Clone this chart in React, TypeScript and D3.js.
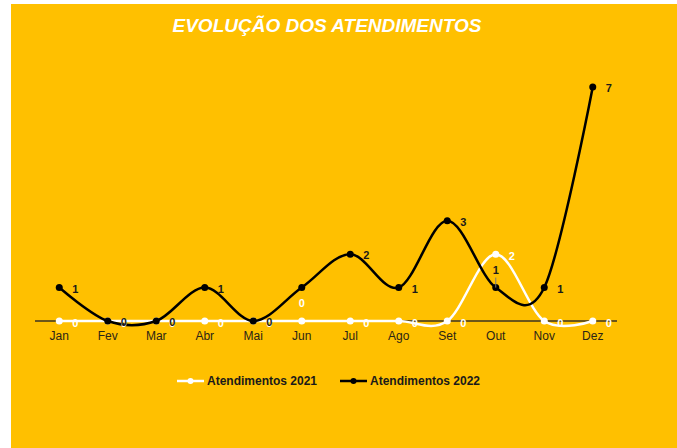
import React from "react";
import * as d3 from "d3";

const months = ["Jan", "Fev", "Mar", "Abr", "Mai", "Jun", "Jul", "Ago", "Set", "Out", "Nov", "Dez"];
const values2021 = [0, 0, 0, 0, 0, 0, 0, 0, 0, 2, 0, 0];
const values2022 = [1, 0, 0, 1, 0, 1, 2, 1, 3, 1, 1, 7];
const labelPos2021 = ["right", "right", "right", "right", "right", "above", "right", "right", "right", "right", "right", "right"];
const labelPos2022 = ["right", "right", "right", "right", "right", "none", "right", "right", "right", "above", "right", "right"];
const seriesNames = ["Atendimentos 2021", "Atendimentos 2022"];
const title = "EVOLUÇÃO DOS ATENDIMENTOS";

const W = 677;
const H = 448;
const FONT = "'Liberation Sans', Arial, sans-serif";

export default function App() {
  const x = d3.scaleBand<string>().domain(months).range([35, 617]);
  const y = d3.scaleLinear().domain([0, 7]).range([321, 87]);
  const cx = (m: string) => (x(m) as number) + x.bandwidth() / 2;

  const line = d3
    .line<number>()
    .x((_, i) => cx(months[i]))
    .y((v) => y(v))
    .curve(d3.curveCardinal.tension(0));

  const series = [
    { name: seriesNames[0], values: values2021, color: "#FFFFFF", pos: labelPos2021 },
    { name: seriesNames[1], values: values2022, color: "#000000", pos: labelPos2022 },
  ];

  return (
    <svg
      width={W}
      height={H}
      style={{ position: "absolute", left: 0, top: 0, display: "block" }}
    >
      <rect x={0} y={0} width={W} height={H} fill="#ffffff" />
      <rect x={11} y={4} width={W - 11} height={H - 4} fill="#FFC000" />
      <text
        x={327}
        y={32}
        textAnchor="middle"
        fontFamily={FONT}
        fontSize={19}
        fontWeight="bold"
        fontStyle="italic"
        fill="#ffffff"
      >
        {title}
      </text>

      {/* axis */}
      <line x1={35} x2={617} y1={y(0)} y2={y(0)} stroke="#3b3320" strokeWidth={1.5} />
      {months.map((m) => (
        <text
          key={m}
          x={cx(m)}
          y={340}
          textAnchor="middle"
          fontFamily={FONT}
          fontSize={12}
          fill="#2b2516"
        >
          {m}
        </text>
      ))}

      {series.map((s) => (
        <g key={s.name}>
          <path d={line(s.values) || ""} fill="none" stroke={s.color} strokeWidth={2.5} />
          {s.values.map((v, i) => (
            <circle key={i} cx={cx(months[i])} cy={y(v)} r={3.5} fill={s.color} />
          ))}
        </g>
      ))}

      {/* data labels */}
      {series.map((s, si) => (
        <g key={s.name + "-labels"}>
          {s.values.map((v, i) => {
            const p = s.pos[i];
            if (p === "none") return null;
            const px = cx(months[i]);
            const py = y(v);
            const lx = p === "above" ? px : px + 16;
            const ly = p === "above" ? py - 18 : py + (si === 0 ? 2 : 1);
            return (
              <g key={i}>
                {p === "above" && si === 1 ? (
                  <line x1={px} x2={px} y1={py - 10} y2={py} stroke="#7a7a7a" strokeWidth={1} />
                ) : null}
                <text
                  x={lx}
                  y={ly}
                  dy="0.36em"
                  textAnchor="middle"
                  fontFamily={FONT}
                  fontSize={11}
                  fontWeight="bold"
                  fill={si === 0 ? "#ffffff" : "#1a1a1a"}
                >
                  {v}
                </text>
              </g>
            );
          })}
        </g>
      ))}

      {/* legend */}
      {series.map((s, i) => {
        const lx = i === 0 ? 177 : 340;
        return (
          <g key={s.name + "-legend"}>
            <line x1={lx} x2={lx + 27} y1={381} y2={381} stroke={s.color} strokeWidth={2.5} />
            <circle cx={lx + 13.5} cy={381} r={3} fill={s.color} />
            <text
              x={lx + 30}
              y={385}
              fontFamily={FONT}
              fontSize={12}
              fontWeight="bold"
              fill="#1a1a1a"
            >
              {s.name}
            </text>
          </g>
        );
      })}
    </svg>
  );
}
